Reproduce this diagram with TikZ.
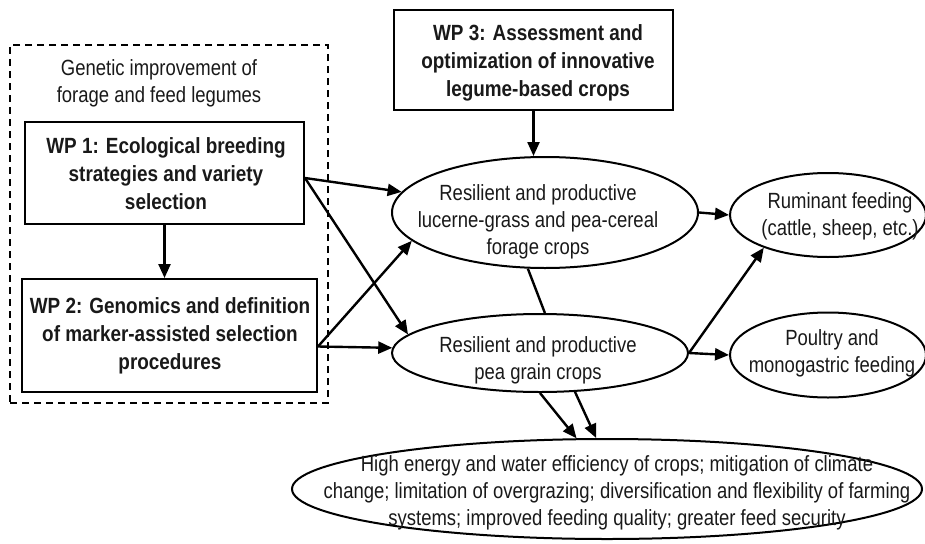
\documentclass[tikz,border=0pt]{standalone}
\usepackage{fontspec}
\setmainfont{Liberation Sans}[FakeStretch=0.84,BoldFeatures={FakeStretch=0.86}]
\usetikzlibrary{shapes.geometric,arrows.meta}
\begin{document}
\begin{tikzpicture}[x=1pt,y=-1pt,
  txt/.style={align=center,font=\fontsize{22}{27}\selectfont,inner sep=0pt,text=black!90},
  btxt/.style={align=center,font=\fontsize{22}{28}\selectfont\bfseries,inner sep=0pt,text=black!90},
  wpbox/.style={draw,rectangle,line width=2pt,inner sep=0pt},
  ell/.style={draw,ellipse,line width=2pt,inner sep=0pt},
  arr/.style={line width=2.4pt,-{Triangle[length=14pt,width=12pt]}},
  plain/.style={line width=2.4pt}]
\useasboundingbox (0,0) rectangle (925,543);
% dashed group
\node[draw,rectangle,line width=1.6pt,dash pattern=on 7pt off 5pt,
      minimum width=318pt,minimum height=358pt] (group) at (169,224) {};
\node[txt] (gtitle) at (159,83) {Genetic improvement of\\forage and feed legumes};
% work packages
\node[wpbox,minimum width=279pt,minimum height=102pt] (wp1) at (164.5,173) {};
\node[btxt] (wp1t) at (166,174) {WP 1: Ecological breeding\\strategies and variety\\selection};
\node[wpbox,minimum width=295pt,minimum height=113pt] (wp2) at (169.5,335.5) {};
\node[btxt] (wp2t) at (170,336) {WP 2: Genomics and definition\\of marker-assisted selection\\procedures};
\node[wpbox,minimum width=279pt,minimum height=100pt] (wp3) at (533.5,60) {};
\node[btxt] (wp3t) at (538,63) {WP 3: Assessment and\\optimization of innovative\\legume-based crops};
% ellipses
\node[ell,minimum width=306pt,minimum height=111pt] (forage) at (545,212.5) {};
\node[txt] (foraget) at (538,222) {Resilient and productive\\lucerne-grass and pea-cereal\\forage crops};
\node[ell,minimum width=296pt,minimum height=78pt] (pea) at (540,353) {};
\node[txt] (peat) at (538,360) {Resilient and productive\\pea grain crops};
\node[ell,minimum width=196pt,minimum height=84pt] (rum) at (828,215) {};
\node[txt] (rumt) at (840,216) {Ruminant feeding\\(cattle, sheep, etc.)};
\node[ell,minimum width=196pt,minimum height=85pt] (poul) at (828,355) {};
\node[txt] (poult) at (832,353) {Poultry and\\monogastric feeding};
\node[ell,minimum width=630pt,minimum height=100pt] (goal) at (607,489) {};
\node[txt] (goalt) at (617,493) {High energy and water efficiency of crops; mitigation of climate\\change; limitation of overgrazing; diversification and flexibility of farming\\systems; improved feeding quality; greater feed security};
% connectors
\draw[arr] (wp1.south) -- (wp1.south |- wp2.north);
\draw[arr] (wp3.south) -- (wp3.south |- forage.north);
\draw[arr] ([yshift=-5pt]wp1.east) -- (forage);
\draw[arr] ([yshift=-5pt]wp1.east) -- (pea.172);
\draw[arr] ([yshift=-11pt]wp2.east) -- (forage.192);
\draw[arr] ([yshift=-11pt]wp2.east) -- (pea.178);
\draw[plain] (forage.253) -- (pea.83);
\draw[arr] (forage.east) -- (rum.west);
\draw[arr] (pea.east) -- (rum.207);
\draw[arr] (pea.east) -- (poul.west);
\draw[arr] (pea.south) -- (goal.121);
\draw[arr] (pea.312) -- (goal.102);
\end{tikzpicture}
\end{document}
